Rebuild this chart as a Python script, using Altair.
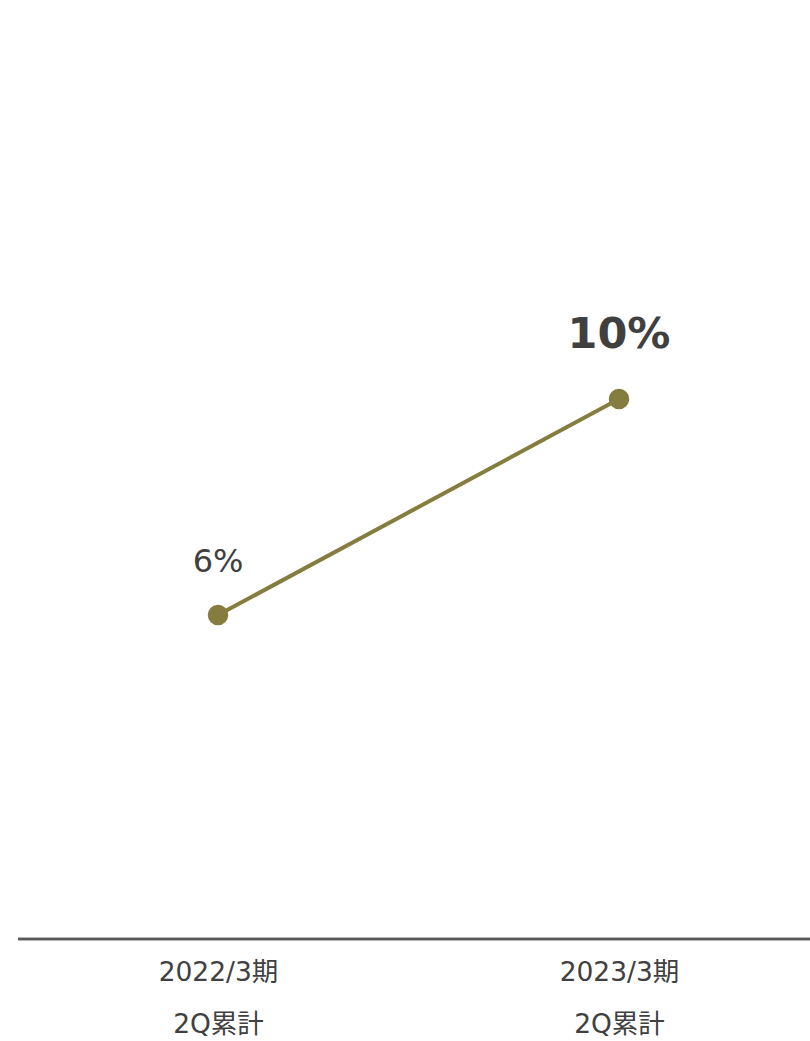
import altair as alt
import pandas as pd

periods = ["2022/3期 2Q累計", "2023/3期 2Q累計"]
values = [6, 10]
labels = ["6%", "10%"]
emphasis = [False, True]

df = pd.DataFrame({"period": periods, "value": values, "label": labels, "emph": emphasis})

LINE = "#857d3f"
TEXT = "#404040"
W, H = 792, 939

x = alt.X(
    "period:O",
    sort=None,
    scale=alt.Scale(type="point", range=[200, 601], padding=0),
    axis=alt.Axis(
        title=None, domain=False, ticks=False, labelAngle=0,
        labelExpr="split(datum.label, ' ')",
        labelFont="DejaVu Sans, Noto Sans CJK JP", labelFontSize=26.5,
        labelColor=TEXT, labelLineHeight=52, labelPadding=20,
    ),
)
y = alt.Y("value:Q", scale=alt.Scale(domain=[0, 17.39]), axis=None)

base = alt.Chart(df)

baseline = base.mark_rule(color="#595959", strokeWidth=2.5).encode(
    x=alt.value(0), x2=alt.value(W), y=alt.value(H)
)

line = base.mark_line(color=LINE, strokeWidth=4).encode(x=x, y=y)
pts = base.mark_circle(color=LINE, opacity=1, size=420).encode(x=x, y=y)

txt_normal = base.transform_filter("!datum.emph").mark_text(
    font="DejaVu Sans", fontSize=32, color=TEXT, dy=-43, baseline="alphabetic"
).encode(x=x, y=y, text="label:N")

txt_bold = base.transform_filter("datum.emph").mark_text(
    font="DejaVu Sans", fontSize=43, fontWeight="bold", color=TEXT, dy=-51, baseline="alphabetic"
).encode(x=x, y=y, text="label:N")

chart = alt.layer(line, pts, txt_normal, txt_bold, baseline).properties(
    width=W, height=H,
    background="white",
    autosize=alt.AutoSizeParams(type="none"),
    padding={"left": 18, "top": 0, "right": 0, "bottom": 102},
).configure_view(stroke=None)

chart.save("out.html", embed_options={"renderer": "svg", "actions": False})
